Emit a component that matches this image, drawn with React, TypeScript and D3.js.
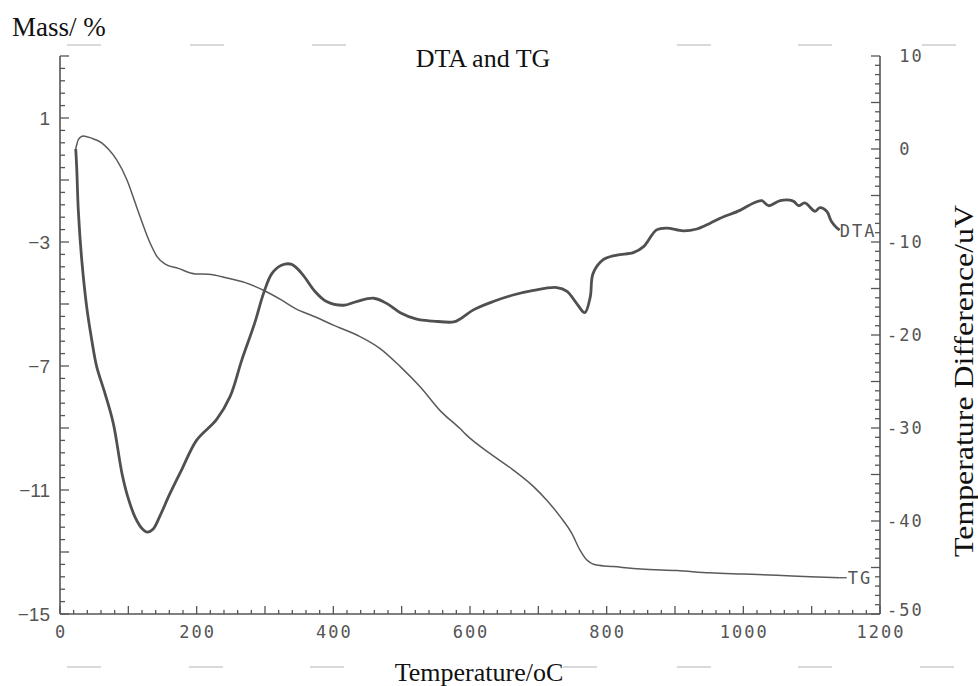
import React from "react";
import * as d3 from "d3";

// ---- Data ----
const tgTemp = [23, 27, 34, 46, 61, 71, 83, 98, 112, 132, 142, 154, 173, 198, 217, 246, 271, 300, 324, 344, 373, 400, 439, 468, 498, 527, 558, 585, 595, 629, 663, 693, 712, 732, 749, 761, 771, 785, 810, 850, 903, 951, 1000, 1049, 1098, 1141];
const tgMass = [0.0, 0.31, 0.42, 0.35, 0.2, -0.01, -0.35, -1.0, -1.86, -3.04, -3.47, -3.71, -3.85, -4.03, -4.04, -4.17, -4.31, -4.58, -4.87, -5.14, -5.41, -5.68, -6.05, -6.43, -7.02, -7.67, -8.48, -9.01, -9.23, -9.82, -10.35, -10.89, -11.32, -11.86, -12.4, -12.94, -13.26, -13.42, -13.47, -13.55, -13.6, -13.67, -13.71, -13.75, -13.8, -13.83];

const dtaTemp = [23, 24.4, 26.8, 31.8, 39.1, 46.4, 53.7, 65.9, 78, 91, 100, 110, 120, 128, 136, 146, 160, 178, 200, 229, 249, 266, 285, 298, 310, 324, 339, 354, 373, 390, 415, 434, 459, 478, 498, 522, 546, 576, 585, 605, 634, 663, 693, 727, 742, 756, 768, 776, 780, 795, 815, 839, 854, 873, 888, 912, 932, 951, 966, 995, 1015, 1027, 1037, 1054, 1073, 1081, 1090, 1105, 1112, 1122, 1129, 1137, 1141];
const dtaValue = [0.0, -1.9, -6.6, -11.9, -17.0, -20.5, -23.4, -26.3, -29.5, -35.0, -37.6, -39.6, -40.8, -41.2, -40.9, -39.5, -37.2, -34.5, -31.3, -29.1, -26.6, -22.7, -18.7, -15.5, -13.4, -12.5, -12.4, -13.4, -15.3, -16.4, -16.8, -16.4, -16.05, -16.6, -17.6, -18.3, -18.5, -18.6, -18.3, -17.3, -16.4, -15.7, -15.2, -14.9, -15.3, -16.6, -17.6, -15.9, -13.4, -11.9, -11.4, -11.15, -10.5, -8.7, -8.5, -8.8, -8.6, -8.0, -7.45, -6.6, -5.8, -5.55, -6.1, -5.55, -5.6, -6.1, -5.8, -6.7, -6.3, -6.7, -7.8, -8.5, -8.7];

const xTickLabels = [0, 200, 400, 600, 800, 1000, 1200];
const leftTickLabels = [1, -3, -7, -11, -15];
const rightTickLabels = [10, 0, -10, -20, -30, -40, -50];

// ---- Layout ----
const W = 978;
const H = 686;
const X0 = 60;
const X1 = 880;
const YB = 614;
const YT = 56;
const INK = "#555";
const PLOT_FONT = "'DejaVu Sans Mono', 'Liberation Mono', monospace";
const SERIF = "'Liberation Serif', 'Times New Roman', serif";

export default function App() {
  const x = d3.scaleLinear().domain([0, 1200]).range([X0, X1]);
  const yL = d3.scaleLinear().domain([-15, 3]).range([YB, YT]);
  const yR = d3.scaleLinear().domain([-50, 10]).range([YB, YT]);

  const tgData = tgTemp.map((t, i) => [t, tgMass[i]] as [number, number]);
  const dtaData = dtaTemp.map((t, i) => [t, dtaValue[i]] as [number, number]);

  const tgLine = d3
    .line<[number, number]>()
    .x((d) => x(d[0]))
    .y((d) => yL(d[1]))
    .curve(d3.curveMonotoneX);
  const dtaLine = d3
    .line<[number, number]>()
    .x((d) => x(d[0]))
    .y((d) => yR(d[1]))
    .curve(d3.curveCatmullRom.alpha(0.5));

  const xMinor = d3.range(0, 1201, 20);
  const leftMinor = d3.range(0, 46).map((i) => -15 + i * 0.4);
  const rightMinor = d3.range(-50, 11, 1);

  const lastTg = tgData[tgData.length - 1];
  const lastDta = dtaData[dtaData.length - 1];

  const topArtifacts = [67, 190, 312, 677, 798, 922];
  const botArtifacts = [67, 189, 310, 563, 677, 798, 920];

  const plotText = { fontFamily: PLOT_FONT, fontSize: 17, letterSpacing: 2, fill: INK } as const;

  return (
    <svg
      width={W}
      height={H}
      viewBox={`0 0 ${W} ${H}`}
      style={{ position: "absolute", left: 0, top: 0, background: "#fff" }}
    >
      <rect x={0} y={0} width={W} height={H} fill="#fff" />

      {topArtifacts.map((a, i) => (
        <line key={"ta" + i} x1={a} x2={a + 34} y1={45} y2={45} stroke="#ccc" strokeWidth={1.5} />
      ))}
      {botArtifacts.map((a, i) => (
        <line key={"ba" + i} x1={a} x2={a + 34} y1={667} y2={667} stroke="#ccc" strokeWidth={1.5} />
      ))}

      {/* axes lines */}
      <line x1={X0} x2={X0} y1={YT} y2={YB} stroke={INK} strokeWidth={1.6} />
      <line x1={X1} x2={X1} y1={YT} y2={YB} stroke={INK} strokeWidth={1.6} />
      <line x1={X0} x2={X1} y1={YB} y2={YB} stroke={INK} strokeWidth={1.6} />

      {/* bottom ticks */}
      {xMinor.map((v) => {
        const major = v % 100 === 0;
        return (
          <line key={"xt" + v} x1={x(v)} x2={x(v)} y1={YB} y2={YB - (major ? 8 : 4)} stroke={INK} strokeWidth={1.3} />
        );
      })}
      {xTickLabels.map((v) => (
        <text key={"xl" + v} x={x(v) + 1} y={YB + 24} textAnchor="middle" {...plotText}>
          {v}
        </text>
      ))}

      {/* left ticks */}
      {leftMinor.map((v, i) => {
        const major = i % 5 === 0;
        return (
          <line key={"lt" + i} x1={X0} x2={X0 + (major ? 9 : 5)} y1={yL(v)} y2={yL(v)} stroke={INK} strokeWidth={1.3} />
        );
      })}
      {leftTickLabels.map((v) => (
        <text key={"ll" + v} x={X0 - 10} y={yL(v) + 7} textAnchor="end" fontFamily="'Liberation Sans', Arial, sans-serif" fontSize={19} fill={INK}>
          {v < 0 ? "\u2212" + Math.abs(v) : v}
        </text>
      ))}

      {/* right ticks */}
      {rightMinor.map((v) => {
        const major = v % 5 === 0;
        return (
          <line key={"rt" + v} x1={X1} x2={X1 - (major ? 9 : 5)} y1={yR(v)} y2={yR(v)} stroke={INK} strokeWidth={1.3} />
        );
      })}
      {rightTickLabels.map((v) => (
        <text key={"rl" + v} x={X1 + 7} y={yR(v) + (v === -50 ? 2 : 6)} textAnchor="start" {...plotText} xmlSpace="preserve" style={{ whiteSpace: "pre" }}>
          {(v < 0 ? "-" : "\u00a0") + Math.abs(v)}
        </text>
      ))}

      {/* curves */}
      <path d={tgLine(tgData) || ""} fill="none" stroke="#5a5a5a" strokeWidth={1.5} />
      <path d={dtaLine(dtaData) || ""} fill="none" stroke="#505050" strokeWidth={2.8} strokeLinejoin="round" />

      {/* inline series labels */}
      <line x1={x(lastTg[0])} x2={x(lastTg[0]) + 7} y1={yL(lastTg[1])} y2={yL(lastTg[1])} stroke={INK} strokeWidth={1.3} />
      <text x={x(lastTg[0]) + 8} y={yL(lastTg[1]) + 6} {...plotText}>
        TG
      </text>
      <text x={x(lastDta[0])} y={yR(lastDta[1]) + 7} {...plotText}>
        DTA
      </text>

      {/* titles */}
      <text x={12} y={36} fontFamily={SERIF} fontSize={27} fill="#111">
        Mass/ %
      </text>
      <text x={483} y={67} textAnchor="middle" fontFamily={SERIF} fontSize={26} fill="#111">
        DTA and TG
      </text>
      <text x={479} y={681} textAnchor="middle" fontFamily={SERIF} fontSize={26} fill="#111">
        Temperature/oC
      </text>
      <text
        transform={`translate(973, 381) rotate(-90)`}
        textAnchor="middle"
        fontFamily={SERIF}
        fontSize={27}
        fill="#111"
        textLength={352}
        lengthAdjust="spacingAndGlyphs"
      >
        Temperature Difference/uV
      </text>
    </svg>
  );
}
